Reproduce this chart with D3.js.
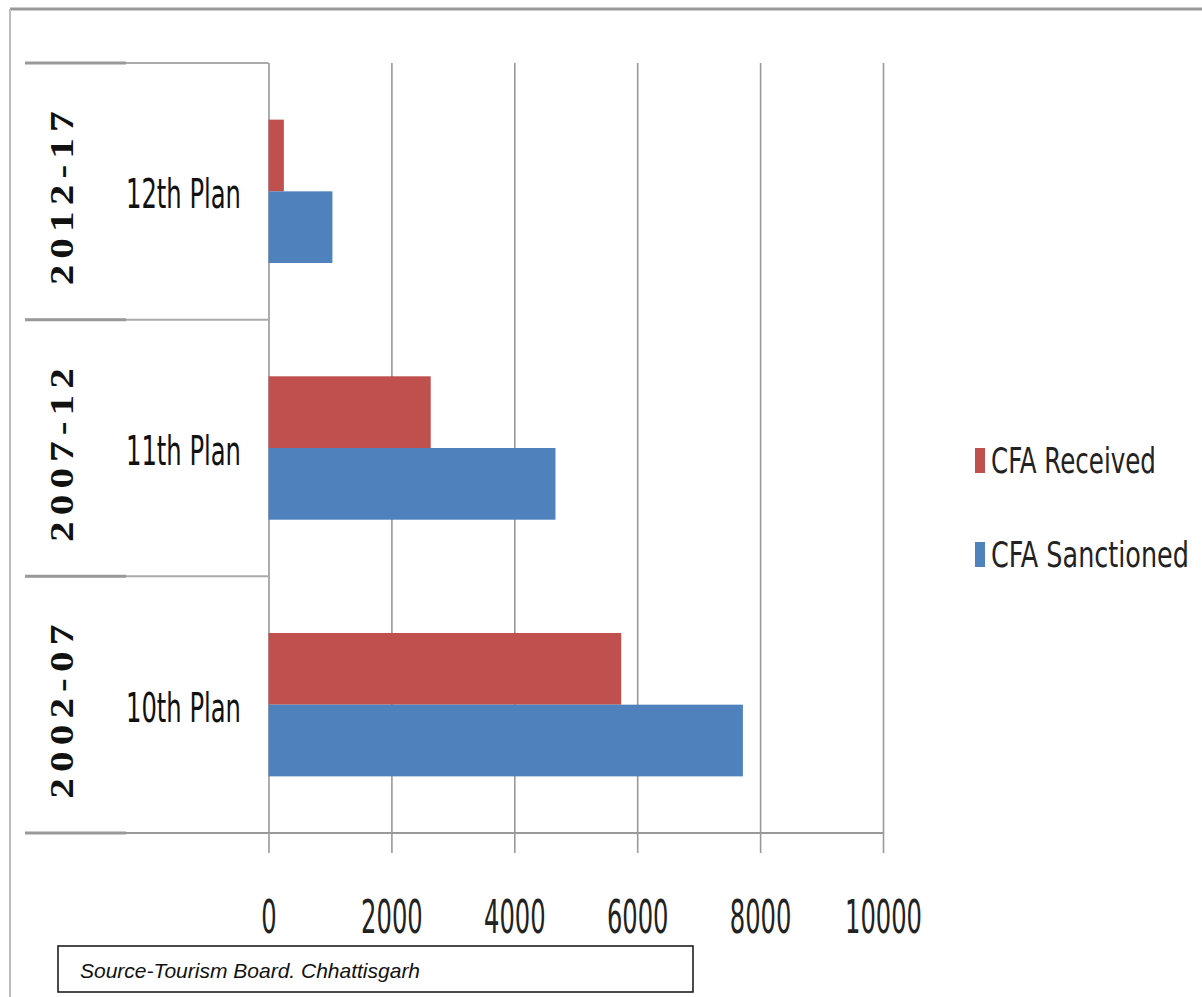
<!DOCTYPE html>
<html>
<head>
<meta charset="utf-8">
<script src="https://cdn.jsdelivr.net/npm/d3@7"></script>
<style>
  body { margin: 0; background: #fff; }
  svg { display: block; }
</style>
</head>
<body>
<div id="chart"></div>
<script>
var plans = ["12th Plan", "11th Plan", "10th Plan"];
var periods = ["2012-17", "2007-12", "2002-07"];
var received = [250, 2640, 5740];
var sanctioned = [1040, 4670, 7720];
var seriesNames = ["CFA Received", "CFA Sanctioned"];
var seriesColors = ["#C0504D", "#4F81BD"];
var tickValues = [0, 2000, 4000, 6000, 8000, 10000];

var W = 1202, H = 997;
var plot = {left: 268.5, right: 883, top: 63, bottom: 833};
var tableLeft = 25;
var narrow = "'Liberation Sans Narrow', 'DejaVu Sans Condensed', sans-serif";

var data = plans.map(function(p, i) {
  return {plan: p, period: periods[i], values: [received[i], sanctioned[i]]};
});

var svg = d3.select("#chart").append("svg")
  .attr("width", W)
  .attr("height", H);

var x = d3.scaleLinear().domain([0, 10000]).range([plot.left, plot.right]);
var y = d3.scaleBand().domain(plans).range([plot.top, plot.bottom]).padding(0);
var ySub = d3.scaleBand().domain(seriesNames).range([0, y.bandwidth()])
  .paddingInner(0).paddingOuter(0.79);

// squeeze a text sideways so that it is w pixels wide
function fitWidth(sel, w) {
  sel.each(function(d, i) {
    var t = d3.select(this);
    var target = typeof w === "function" ? w(d, i) : w;
    var len = this.getComputedTextLength();
    var x0 = +t.attr("x") || 0, y0 = +t.attr("y") || 0;
    t.attr("transform", "translate(" + x0 + "," + y0 + ") scale(" + (target / len) + ",1)")
      .attr("x", 0).attr("y", 0);
  });
}

// outer frame of the picture
svg.append("line")
  .attr("x1", 10).attr("x2", W).attr("y1", 9).attr("y2", 9)
  .attr("stroke", "#999").attr("stroke-width", 3);
svg.append("line")
  .attr("x1", 10).attr("x2", 10).attr("y1", 9).attr("y2", H)
  .attr("stroke", "#bbb").attr("stroke-width", 2);

// gridlines
svg.append("g")
  .attr("class", "grid")
  .attr("transform", "translate(0," + plot.bottom + ")")
  .call(d3.axisBottom(x).tickValues(tickValues).tickSize(-(plot.bottom - plot.top)).tickFormat(""))
  .call(function(g) { g.select(".domain").remove(); })
  .selectAll("line")
  .attr("stroke", "#999")
  .attr("stroke-width", 1.6);

// category separators in the left table
var seps = plans.map(function(p) { return y(p); }).concat([plot.bottom]);
svg.append("g")
  .selectAll("line")
  .data(seps)
  .enter().append("line")
  .attr("x1", tableLeft).attr("x2", plot.left)
  .attr("y1", d => d).attr("y2", d => d)
  .attr("stroke", "#aaa")
  .attr("stroke-width", 2);
svg.append("g")
  .selectAll("line")
  .data(seps)
  .enter().append("line")
  .attr("x1", tableLeft).attr("x2", 126)
  .attr("y1", d => d).attr("y2", d => d)
  .attr("stroke", "#999")
  .attr("stroke-width", 3);

// bars
var groups = svg.append("g")
  .selectAll("g")
  .data(data)
  .enter().append("g")
  .attr("transform", d => "translate(0," + y(d.plan) + ")");

groups.selectAll("rect")
  .data(d => d.values.map(function(v, i) { return {name: seriesNames[i], value: v, color: seriesColors[i]}; }))
  .enter().append("rect")
  .attr("x", x(0))
  .attr("y", d => ySub(d.name))
  .attr("width", d => x(d.value) - x(0))
  .attr("height", ySub.bandwidth())
  .attr("fill", d => d.color);

// x axis with ticks below
var xAxis = svg.append("g")
  .attr("class", "x axis")
  .attr("transform", "translate(0," + plot.bottom + ")")
  .call(d3.axisBottom(x).tickValues(tickValues).tickSize(20).tickFormat(d3.format("d")));

xAxis.select(".domain").remove();
xAxis.selectAll("line").attr("stroke", "#999").attr("stroke-width", 1.6);
xAxis.selectAll("text")
  .attr("y", 100)
  .attr("dy", 0)
  .attr("fill", "#222")
  .style("font-family", narrow)
  .style("font-size", "46px")
  .attr("textLength", d => String(d).length * 15.4)
  .attr("lengthAdjust", "spacingAndGlyphs");

// bottom axis line, running under the table too
svg.append("line")
  .attr("x1", tableLeft).attr("x2", x(10000))
  .attr("y1", plot.bottom).attr("y2", plot.bottom)
  .attr("stroke", "#999").attr("stroke-width", 2);

// plan labels
svg.append("g")
  .selectAll("text")
  .data(data)
  .enter().append("text")
  .attr("x", 126)
  .attr("y", d => y(d.plan) + y.bandwidth() / 2 + 17)
  .attr("fill", "#111")
  .style("font-family", narrow)
  .style("font-size", "41px")
  .text(d => d.plan)
  .call(fitWidth, 115);

// period labels, rotated
svg.append("g")
  .selectAll("text")
  .data(data)
  .enter().append("text")
  .attr("transform", d => "translate(73," + (y(d.plan) + y.bandwidth() / 2 + 4) + ") rotate(-90)")
  .attr("text-anchor", "middle")
  .attr("fill", "#111")
  .style("font-family", "'Liberation Serif', 'DejaVu Serif', serif")
  .style("font-weight", "bold")
  .style("font-size", "34px")
  .style("letter-spacing", "5px")
  .attr("textLength", 180)
  .attr("lengthAdjust", "spacingAndGlyphs")
  .text(d => d.period);

// legend
var legend = svg.append("g")
  .selectAll("g")
  .data(seriesNames)
  .enter().append("g")
  .attr("transform", function(d, i) { return "translate(975," + (460 + i * 94) + ")"; });

legend.append("rect")
  .attr("x", 0).attr("y", -12)
  .attr("width", 10).attr("height", 25)
  .attr("fill", (d, i) => seriesColors[i]);

legend.append("text")
  .attr("x", 16)
  .attr("y", 13)
  .attr("fill", "#222")
  .style("font-family", narrow)
  .style("font-size", "36px")
  .text(d => d)
  .call(fitWidth, (d, i) => i == 0 ? 165 : 198);

// source box
svg.append("rect")
  .attr("x", 58).attr("y", 946)
  .attr("width", 635).attr("height", 46)
  .attr("fill", "#fff")
  .attr("stroke", "#111")
  .attr("stroke-width", 1.5);

svg.append("text")
  .attr("x", 80).attr("y", 978)
  .attr("fill", "#111")
  .style("font-family", "'Liberation Sans', Arial, sans-serif")
  .style("font-style", "italic")
  .style("font-size", "21px")
  .text("Source-Tourism Board. Chhattisgarh");
</script>
</body>
</html>
